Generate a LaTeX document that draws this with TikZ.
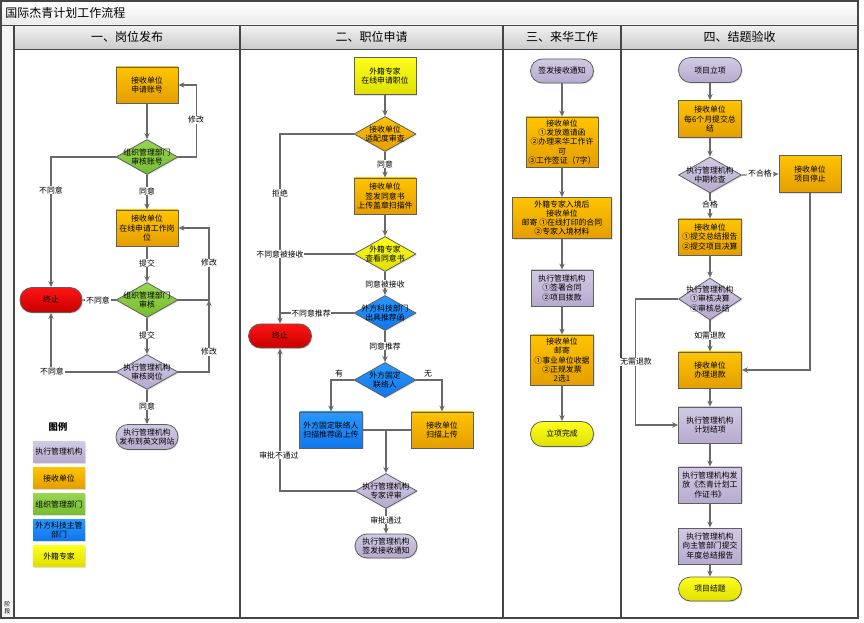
\documentclass[tikz,border=0pt]{standalone}
\usepackage{fontspec}
\setmainfont{Noto Sans CJK SC}
\usetikzlibrary{shapes.geometric,arrows.meta,shadows}
\definecolor{orT}{RGB}{255,196,0}
\definecolor{orB}{RGB}{228,158,0}
\definecolor{puT}{RGB}{210,202,228}
\definecolor{puB}{RGB}{182,170,206}
\definecolor{grT}{RGB}{152,214,82}
\definecolor{grB}{RGB}{118,188,48}
\definecolor{blT}{RGB}{40,152,255}
\definecolor{blB}{RGB}{18,118,235}
\definecolor{yeT}{RGB}{255,255,30}
\definecolor{yeB}{RGB}{222,222,0}
\definecolor{reT}{RGB}{255,20,20}
\definecolor{reB}{RGB}{200,0,0}
\definecolor{edgec}{RGB}{95,95,95}
\definecolor{lnc}{RGB}{105,105,105}
\definecolor{framec}{RGB}{70,70,70}
\tikzset{
  fnt/.style={font=\fontsize{5.9}{6.8}\selectfont},
  shd/.style={drop shadow={shadow xshift=0.8pt,shadow yshift=-0.8pt,opacity=0.25}},
  box/.style={fnt,shd,rectangle,draw=edgec,line width=0.6pt,align=center,inner sep=1pt,
              minimum width=46.5pt,minimum height=27pt},
  term/.style={box,rounded corners=9pt,minimum height=18.75pt},
  dia/.style={shd,diamond,draw=edgec,line width=0.6pt,inner sep=0pt,
              minimum width=46.5pt,minimum height=26.25pt},
  dtxt/.style={fnt,align=center,inner sep=0pt},
  orf/.style={top color=orT,bottom color=orB},
  puf/.style={top color=puT,bottom color=puB},
  grf/.style={top color=grT,bottom color=grB},
  blf/.style={top color=blT,bottom color=blB},
  yef/.style={top color=yeT,bottom color=yeB},
  ref/.style={top color=reT,bottom color=reB},
  ln/.style={draw=lnc,line width=0.9pt},
  arr/.style={ln,-{Stealth[length=4.5pt,width=4pt]}},
  lbl/.style={fnt,fill=white,inner sep=0.6pt},
  lgd/.style={fnt,shd,rectangle,align=center,inner sep=1pt,minimum width=39pt,minimum height=15.75pt},
  hdr/.style={font=\fontsize{9}{10}\selectfont}
}
\begin{document}
\begin{tikzpicture}[x=0.75pt,y=-0.75pt]
\useasboundingbox (0,0) rectangle (864,623);
% ---------- frame ----------
\fill[top color=white,bottom color=black!8] (1,1) rectangle (858,25);
\fill[black!4] (1,25) rectangle (14,618);
\fill[top color=black!5,bottom color=black!20] (14,25) rectangle (858,49);
\draw[framec,line width=0.8pt] (1,1) rectangle (858,618);
\draw[framec,line width=0.6pt] (1,25) -- (858,25);
\draw[framec,line width=0.6pt] (14,49) -- (858,49);
\draw[framec,line width=0.8pt] (14,25) -- (14,618);
\draw[framec,line width=0.8pt] (240,25) -- (240,618);
\draw[framec,line width=0.8pt] (503,25) -- (503,618);
\draw[framec,line width=0.8pt] (621,25) -- (621,618);
\node[hdr,anchor=west,inner sep=0pt] (title) at (5,13) {国际杰青计划工作流程};
\node[hdr] (h1) at (127,37) {一、岗位发布};
\node[hdr] (h2) at (371.5,37) {二、职位申请};
\node[hdr] (h3) at (562,37) {三、来华工作};
\node[hdr] (h4) at (739.5,37) {四、结题验收};
\node[font=\fontsize{4.5}{5.2}\selectfont,align=center,inner sep=0pt] (stage) at (7.5,608) {阶\\段};
% ---------- column 1 ----------
\node[box,orf] (b1) at (147,85) {接收单位\\申请账号};
\node[dia,grf,label={[dtxt]center:{组织管理部门\\审核账号}}] (d1) at (147,157) {};
\node[box,orf] (b2) at (147,228) {接收单位\\在线申请工作岗\\位};
\node[dia,grf,label={[dtxt]center:{组织管理部门\\审核}}] (d2) at (147,300) {};
\node[dia,puf,label={[dtxt]center:{执行管理机构\\审核岗位}}] (d3) at (147,372) {};
\node[term,puf] (e1) at (147,437) {执行管理机构\\发布到英文网站};
\node[term,ref,minimum width=46.5pt] (t1) at (51,300) {终止};
\coordinate (k1) at (209,300);
\draw[arr] (b1.south) -- (d1.north);
\draw[arr] (d1.east) -- ++(18,0) |- (b1.east);
\draw[arr] (d1.west) -| (t1.north);
\draw[arr] (d1.south) -- (b2.north);
\draw[arr] (b2.south) -- (d2.north);
\draw[arr] (d2.east) -- (k1) |- (b2.east);
\draw[arr] (d2.west) -- (t1.east);
\draw[arr] (d2.south) -- (d3.north);
\draw[arr] (d3.east) -| (k1);
\draw[arr] (d3.west) -| (t1.south);
\draw[arr] (d3.south) -- (e1.north);
\node[lbl] (l1) at (196,120) {修改};
\node[lbl] (l2) at (51,190) {不同意};
\node[lbl] (l3) at (147,191) {同意};
\node[lbl] (l4) at (147,263) {提交};
\node[lbl] (l5) at (209,263) {修改};
\node[lbl] (l6) at (98,300) {不同意};
\node[lbl] (l7) at (147,335) {提交};
\node[lbl] (l8) at (209,352) {修改};
\node[lbl] (l9) at (52,371) {不同意};
\node[lbl] (l10) at (147,406) {同意};
% legend
\node[font=\fontsize{7}{8}\selectfont\bfseries,inner sep=0pt] (lg) at (58,427) {图例};
\node[lgd,puf] (lg1) at (59,452) {执行管理机构};
\node[lgd,orf] (lg2) at (59,478) {接收单位};
\node[lgd,grf] (lg3) at (59,504) {组织管理部门};
\node[lgd,blf] (lg4) at (59,530) {外方科技主管\\部门};
\node[lgd,yef] (lg5) at (59,556) {外籍专家};
% ---------- column 2 ----------
\node[box,yef,minimum height=27.75pt] (b3) at (385,76) {外籍专家\\在线申请职位};
\node[dia,orf,label={[dtxt]center:{接收单位\\适配度审查}}] (d4) at (385,134) {};
\node[box,orf] (b4) at (385,196) {接收单位\\签发同意书\\上传盖章扫描件};
\node[dia,yef,label={[dtxt]center:{外籍专家\\查看同意书}}] (d5) at (385,254) {};
\node[dia,blf,label={[dtxt]center:{外方科技部门\\出具推荐函}}] (d6) at (385,313) {};
\node[term,ref,minimum width=47.25pt,minimum height=18pt] (t2) at (280,336) {终止};
\node[dia,blf,label={[dtxt]center:{外方固定\\联络人}}] (d7) at (385,380) {};
\node[box,blf,minimum width=47.25pt] (b5) at (331,430) {外方固定联络人\\扫描推荐函上传};
\node[box,orf] (b6) at (442,430) {接收单位\\扫描上传};
\node[dia,puf,label={[dtxt]center:{执行管理机构\\专家评审}}] (d8) at (386,491) {};
\node[term,puf,minimum height=18pt] (e2) at (386,546) {执行管理机构\\签发接收通知};
\draw[arr] (b3.south) -- (d4.north);
\draw[arr] (d4.west) -| (t2.north);
\draw[arr] (d4.south) -- (b4.north);
\draw[arr] (b4.south) -- (d5.north);
\draw[ln] (d5.west) -- (d5.west -| t2.north);
\draw[arr] (d5.south) -- (d6.north);
\draw[ln] (d6.west) -- (d6.west -| t2.north);
\draw[arr] (d6.south) -- (d7.north);
\draw[arr] (d7.west) -| (b5.north);
\draw[arr] (d7.east) -| (b6.north);
\draw[ln] (b5.east) -- (b6.west);
\draw[arr] (d8.north |- b5.east) -- (d8.north);
\draw[arr] (d8.west) -| (t2.south);
\draw[arr] (d8.south) -- (e2.north);
\node[lbl] (m1) at (280,193) {拒绝};
\node[lbl] (m2) at (385,164) {同意};
\node[lbl] (m3) at (280,254) {不同意被接收};
\node[lbl] (m4) at (385,284) {同意被接收};
\node[lbl] (m5) at (311,313) {不同意推荐};
\node[lbl] (m6) at (385,346) {同意推荐};
\node[lbl] (m7) at (339,374) {有};
\node[lbl] (m8) at (428,374) {无};
\node[lbl] (m9) at (279,455) {审批不通过};
\node[lbl] (m10) at (386,520) {审批通过};
% ---------- column 3 ----------
\node[term,puf,minimum width=47.25pt,minimum height=18pt] (e3) at (562,71) {签发接收通知};
\node[box,orf,minimum width=54pt,minimum height=37.5pt] (b7) at (562,142) {接收单位\\①发放邀请函\\②办理来华工作许\\可\\③工作签证（7字）};
\node[box,orf,minimum width=74.25pt,minimum height=30.75pt] (b8) at (562,218) {外籍专家入境后\\接收单位\\邮寄\ ①在线打印的合同\\②专家入境材料};
\node[box,puf] (b9) at (562,288) {执行管理机构\\①签署合同\\②项目拨款};
\node[box,orf,minimum width=47.25pt,minimum height=37.5pt] (b10) at (562,360) {接收单位\\邮寄\\①事业单位收据\\②正规发票\\2选1};
\node[term,yef,minimum width=47.25pt] (e4) at (562,434) {立项完成};
\draw[arr] (e3.south) -- (b7.north);
\draw[arr] (b7.south) -- (b8.north);
\draw[arr] (b8.south) -- (b9.north);
\draw[arr] (b9.south) -- (b10.north);
\draw[arr] (b10.south) -- (e4.north);
% ---------- column 4 ----------
\node[term,puf,minimum width=47.25pt] (e5) at (710,70) {项目立项};
\node[box,orf,minimum width=47.25pt,minimum height=27.75pt] (b11) at (710,119) {接收单位\\每6个月提交总\\结};
\node[dia,puf,minimum width=47.25pt,minimum height=27pt,label={[dtxt]center:{执行管理机构\\中期检查}}] (d9) at (710,175) {};
\node[box,orf,minimum height=27.75pt] (b12) at (810,174) {接收单位\\项目停止};
\node[box,orf,minimum width=47.25pt] (b13) at (710,237) {接收单位\\①提交总结报告\\②提交项目决算};
\node[dia,puf,minimum width=47.25pt,minimum height=31.5pt,label={[dtxt]center:{执行管理机构\\①审核决算\\②审核总结}}] (d10) at (710,299) {};
\node[box,orf,minimum width=47.25pt] (b14) at (710,370) {接收单位\\办理退款};
\node[box,puf,minimum width=47.25pt] (b15) at (710,425) {执行管理机构\\计划结项};
\node[box,puf,minimum width=47.25pt] (b16) at (710,485) {执行管理机构发\\放《杰青计划工\\作证书》};
\node[box,puf,minimum width=47.25pt] (b17) at (710,546) {执行管理机构\\向主管部门提交\\年度总结报告};
\node[term,yef,minimum width=47.25pt,minimum height=18pt] (e6) at (710,589) {项目结题};
\draw[arr] (e5.south) -- (b11.north);
\draw[arr] (b11.south) -- (d9.north);
\draw[arr] (d9.east) -- (b12.west);
\draw[arr] (d9.south) -- (b13.north);
\draw[arr] (b13.south) -- (d10.north);
\draw[arr] (d10.south) -- (b14.north);
\draw[arr] (b12.south) |- (b14.east);
\draw[arr] (d10.west) -- ++(-43,0) |- (b15.west);
\draw[arr] (b14.south) -- (b15.north);
\draw[arr] (b15.south) -- (b16.north);
\draw[arr] (b16.south) -- (b17.north);
\draw[arr] (b17.south) -- (e6.north);
\node[lbl] (n1) at (760,174) {不合格};
\node[lbl] (n2) at (710,205) {合格};
\node[lbl] (n3) at (710,336) {如需退款};
\node[lbl] (n4) at (636,362) {无需退款};
\end{tikzpicture}
\end{document}
